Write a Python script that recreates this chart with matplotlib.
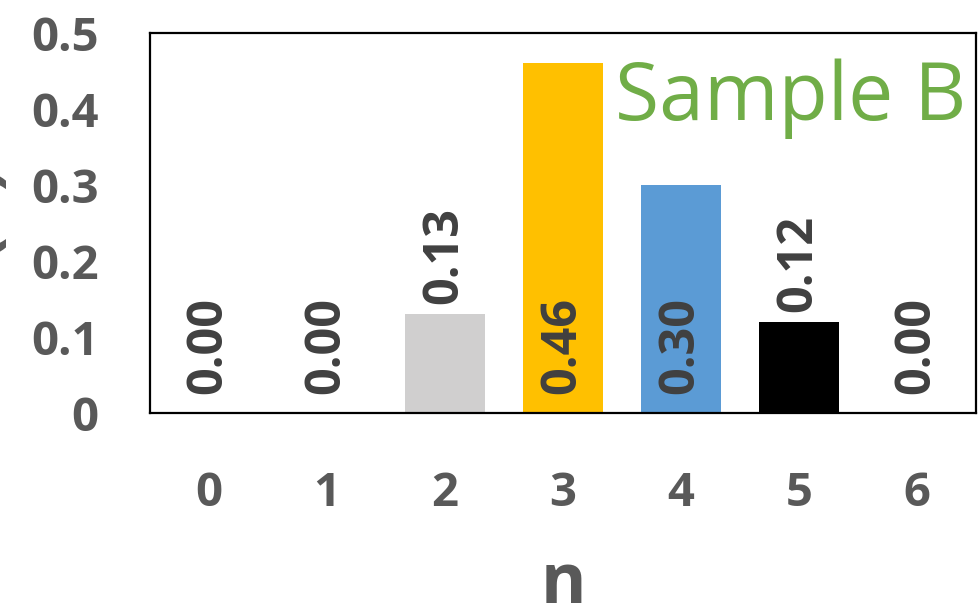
import numpy as np
import matplotlib.pyplot as plt

# distribution of n for sample B
n_values = [0, 1, 2, 3, 4, 5, 6]
probs = [0.00, 0.00, 0.13, 0.46, 0.30, 0.12, 0.00]
bar_colors = ['#D0CFCF', '#D0CFCF', '#D0CFCF', '#FFC000', '#5B9BD5', '#000000', '#D0CFCF']
y_ticks = [0, 0.1, 0.2, 0.3, 0.4, 0.5]
y_tick_labels = ['0', '0.1', '0.2', '0.3', '0.4', '0.5']

txt_gray = '#595959'
lbl_gray = '#404040'
W, H = 980, 607

fig = plt.figure(figsize=(9.8, 6.07), dpi=100)
ax = fig.add_axes([150 / W, 1 - 413 / H, 826 / W, 380 / H])

ax.bar(n_values, probs, width=0.67, color=bar_colors, zorder=2)

ax.set_xlim(-0.5, 6.5)
ax.set_ylim(0, 0.5)
ax.set_yticks(y_ticks)
ax.set_yticklabels(y_tick_labels)
ax.set_xticks(n_values)
ax.set_xticklabels([str(v) for v in n_values])
ax.tick_params(axis='both', length=0, labelsize=34, labelcolor=txt_gray)
ax.tick_params(axis='y', pad=37)
ax.tick_params(axis='x', pad=41)
for lab in ax.get_xticklabels() + ax.get_yticklabels():
    lab.set_fontweight('bold')
    lab.set_fontfamily('Open Sans')

for sp in ax.spines.values():
    sp.set_linewidth(1.6)
    sp.set_color('black')

ax.set_xlabel('n', fontsize=50, fontweight='bold', color=txt_gray,
              fontfamily='Open Sans')
ax.xaxis.set_label_coords(0.5, -0.36)

# y label runs off the left edge, only the bracket descenders show
fig.text(-10 / W, 1 - 228 / H, 'P(n)', rotation=90, rotation_mode='anchor',
         ha='center', va='baseline', fontsize=50, fontweight='bold',
         color=txt_gray, fontfamily='Open Sans')

# value labels: small bars get the label above, others sit at the base
for x, p in zip(n_values, probs):
    if 0 < p < 0.2:
        y0, off = p, 7
    else:
        y0, off = 0, 14
    ax.annotate(f'{p:.2f}', (x, y0), xytext=(0, off), textcoords='offset points',
                rotation=90, ha='center', va='bottom', fontsize=35,
                fontweight='bold', color=lbl_gray, fontfamily='Open Sans',
                zorder=3)

ax.text(0.563, 0.771, 'Sample B', transform=ax.transAxes, fontsize=58,
        color='#70AD47', fontfamily='Open Sans', ha='left', va='baseline')

fig.savefig('out.png', dpi=100)
